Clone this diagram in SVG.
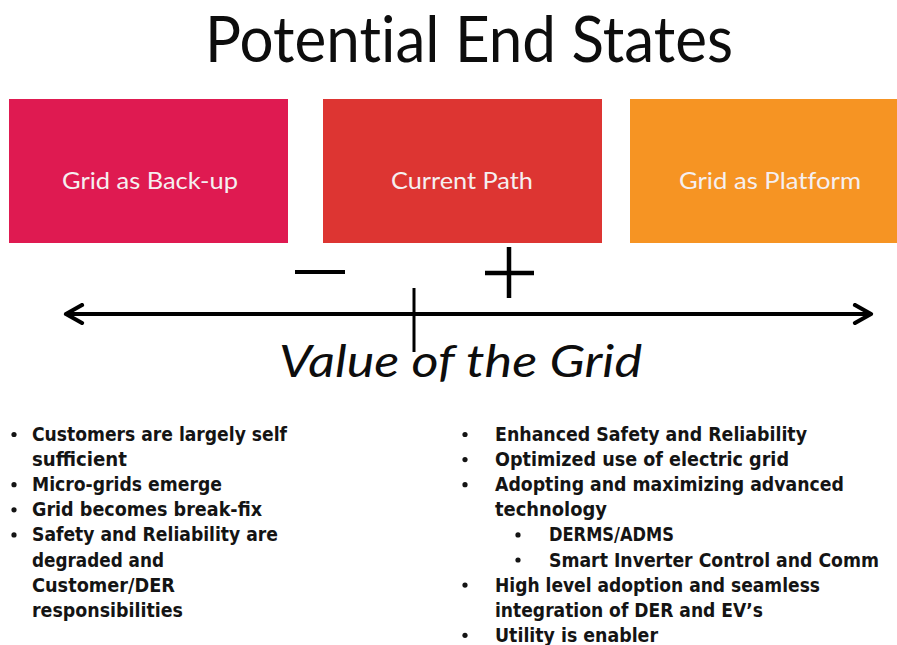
<svg xmlns="http://www.w3.org/2000/svg" width="897" height="645" viewBox="0 0 897 645">
  <style>
    .title { font-family: Lato, "Open Sans", "Liberation Sans", sans-serif; font-size: 64px; fill: #0d0d0d; font-variant-ligatures: none; }
    .box-label { font-family: Lato, "Open Sans", "Liberation Sans", sans-serif; font-size: 24px; fill: #f5eff0; text-anchor: middle; font-variant-ligatures: none; }
    .axis-label { font-family: Lato, "Open Sans", "Liberation Sans", sans-serif; font-style: italic; font-size: 44px; fill: #0d0d0d; font-variant-ligatures: none; }
    .item { font-family: "DejaVu Sans", "Open Sans", sans-serif; font-stretch: condensed; font-weight: bold; font-size: 19.5px; fill: #141414; }
    .dot { fill: #141414; }
    .stroke { stroke: #000; fill: none; }
  </style>
  <defs>
    <marker id="chevron" viewBox="0 0 22 22" markerWidth="22" markerHeight="22" refX="19" refY="11" markerUnits="userSpaceOnUse" orient="auto-start-reverse">
      <path d="M3,2 L19,11 L3,20" fill="none" stroke="#000" stroke-width="4.2" stroke-linecap="round" stroke-linejoin="round"/>
    </marker>
  </defs>

  <rect width="897" height="645" fill="#ffffff"/>

  <!-- heading -->
  <g id="title">
    <text class="title" x="205" y="62" textLength="528" lengthAdjust="spacingAndGlyphs">Potential End States</text>
  </g>

  <!-- the three end-state boxes -->
  <g id="grid-backup">
    <rect x="9" y="99" width="279" height="144" fill="#df1a51"/>
    <text class="box-label" x="150" y="189" textLength="176" lengthAdjust="spacingAndGlyphs">Grid as Back-up</text>
  </g>
  <g id="current-path">
    <rect x="323" y="99" width="279" height="144" fill="#dd3532"/>
    <text class="box-label" x="462" y="189" textLength="142" lengthAdjust="spacingAndGlyphs">Current Path</text>
  </g>
  <g id="grid-platform">
    <rect x="630" y="99" width="275" height="144" fill="#f69423"/>
    <text class="box-label" x="770" y="189" textLength="182" lengthAdjust="spacingAndGlyphs">Grid as Platform</text>
  </g>

  <!-- value axis with current-position tick and minus / plus signs -->
  <g id="connectors">
    <line class="stroke" x1="66" y1="314" x2="871" y2="314" stroke-width="4" marker-start="url(#chevron)" marker-end="url(#chevron)"/>
    <line class="stroke" x1="414" y1="288" x2="414" y2="352" stroke-width="3"/>
    <line class="stroke" x1="295" y1="272" x2="345" y2="272" stroke-width="4"/>
    <line class="stroke" x1="485" y1="273" x2="534" y2="273" stroke-width="4.5"/>
    <line class="stroke" x1="509" y1="247" x2="509" y2="298" stroke-width="4.5"/>
  </g>

  <g id="axis-label">
    <text class="axis-label" x="279" y="377" textLength="363" lengthAdjust="spacingAndGlyphs">Value of the Grid</text>
  </g>

  <!-- left list: grid as back-up outcomes -->
  <g id="backup-list">
    <circle class="dot" cx="14" cy="434.5" r="2.6"/>
    <circle class="dot" cx="14" cy="484.7" r="2.6"/>
    <circle class="dot" cx="14" cy="509.8" r="2.6"/>
    <circle class="dot" cx="14" cy="534.9" r="2.6"/>
    <text class="item" x="32" y="441" textLength="255" lengthAdjust="spacingAndGlyphs">Customers are largely self</text>
    <text class="item" x="32" y="466.1" textLength="95" lengthAdjust="spacingAndGlyphs">sufficient</text>
    <text class="item" x="32" y="491.2" textLength="190" lengthAdjust="spacingAndGlyphs">Micro-grids emerge</text>
    <text class="item" x="32" y="516.3" textLength="230" lengthAdjust="spacingAndGlyphs">Grid becomes break-fix</text>
    <text class="item" x="32" y="541.4" textLength="246" lengthAdjust="spacingAndGlyphs">Safety and Reliability are</text>
    <text class="item" x="32" y="566.5" textLength="132" lengthAdjust="spacingAndGlyphs">degraded and</text>
    <text class="item" x="32" y="591.6" textLength="143" lengthAdjust="spacingAndGlyphs">Customer/DER</text>
    <text class="item" x="32" y="616.7" textLength="151" lengthAdjust="spacingAndGlyphs">responsibilities</text>
  </g>

  <!-- right list: grid as platform outcomes -->
  <g id="platform-list">
    <circle class="dot" cx="465" cy="434.5" r="2.6"/>
    <circle class="dot" cx="465" cy="459.6" r="2.6"/>
    <circle class="dot" cx="465" cy="484.7" r="2.6"/>
    <circle class="dot" cx="518" cy="534.9" r="2.6"/>
    <circle class="dot" cx="518" cy="560" r="2.6"/>
    <circle class="dot" cx="465" cy="585.1" r="2.6"/>
    <circle class="dot" cx="465" cy="635.3" r="2.6"/>
    <text class="item" x="495" y="441" textLength="312" lengthAdjust="spacingAndGlyphs">Enhanced Safety and Reliability</text>
    <text class="item" x="495" y="466.1" textLength="294" lengthAdjust="spacingAndGlyphs">Optimized use of electric grid</text>
    <text class="item" x="495" y="491.2" textLength="349" lengthAdjust="spacingAndGlyphs">Adopting and maximizing advanced</text>
    <text class="item" x="495" y="516.3" textLength="112" lengthAdjust="spacingAndGlyphs">technology</text>
    <text class="item" x="549" y="541.4" textLength="125" lengthAdjust="spacingAndGlyphs">DERMS/ADMS</text>
    <text class="item" x="549" y="566.5" textLength="330" lengthAdjust="spacingAndGlyphs">Smart Inverter Control and Comm</text>
    <text class="item" x="495" y="591.6" textLength="325" lengthAdjust="spacingAndGlyphs">High level adoption and seamless</text>
    <text class="item" x="495" y="616.7" textLength="268" lengthAdjust="spacingAndGlyphs">integration of DER and EV’s</text>
    <text class="item" x="495" y="641.8" textLength="163" lengthAdjust="spacingAndGlyphs">Utility is enabler</text>
  </g>
</svg>
